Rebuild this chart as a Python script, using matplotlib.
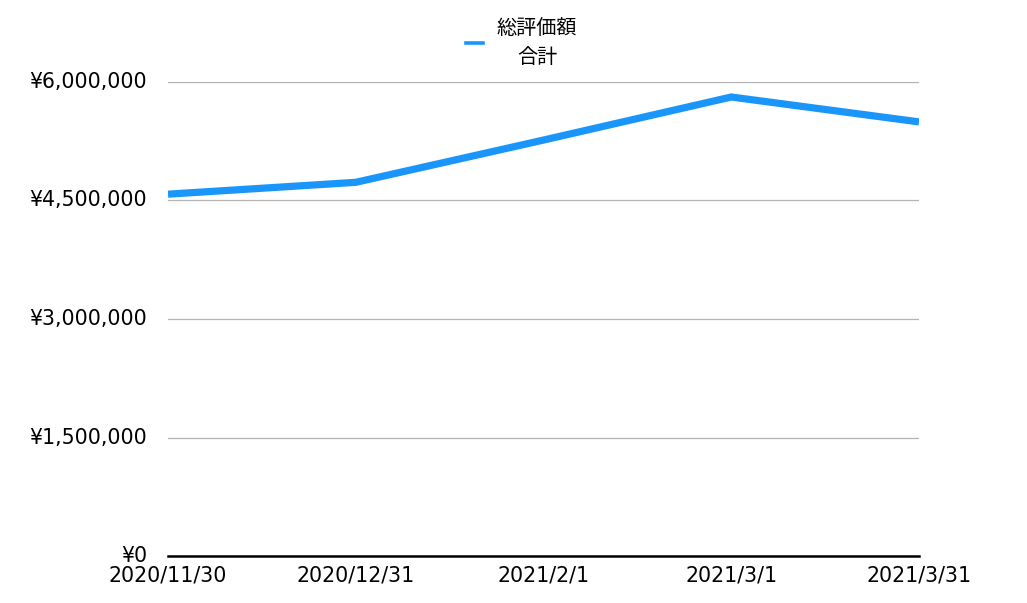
import matplotlib
matplotlib.use("Agg")
import matplotlib.pyplot as plt
from matplotlib.ticker import FuncFormatter
from matplotlib.lines import Line2D

plt.rcParams['font.family'] = ['DejaVu Sans', 'Noto Sans CJK JP']

dates = ["2020/11/30", "2020/12/31", "2021/2/1", "2021/3/1", "2021/3/31"]
total_value = [4580000, 4730000, 5265000, 5810000, 5495000]
series_label = "総評価額\n合計"
y_ticks = [0, 1500000, 3000000, 4500000, 6000000]

line_color = "#1a96fa"

fig = plt.figure(figsize=(10.27, 6.03), dpi=100)
ax = fig.add_axes([168/1027, 1-556/603, (919-168)/1027, (556-82)/603])

x = list(range(len(dates)))
ax.plot(x, total_value, color=line_color, lw=5.2, solid_capstyle="butt",
        solid_joinstyle="miter", label=series_label, zorder=3)

ax.set_xlim(0, len(dates)-1)
ax.set_ylim(0, 6000000)
ax.set_yticks(y_ticks)
ax.yaxis.set_major_formatter(FuncFormatter(lambda v, p: "¥{:,.0f}".format(v)))
ax.set_xticks(x)
ax.set_xticklabels(dates)
ax.grid(axis="y", color="#b3b3b3", lw=0.9)
ax.set_axisbelow(True)
for s in ["top", "right", "left"]:
    ax.spines[s].set_visible(False)
ax.spines["bottom"].set_linewidth(1.8)
ax.spines["bottom"].set_color("black")
ax.tick_params(axis="both", length=0, labelsize=14.8, colors="black")
ax.tick_params(axis="y", pad=15)
ax.tick_params(axis="x", pad=6.5)
for lab in ax.get_yticklabels():
    lab.set_verticalalignment("center")

# legend drawn manually to match the reference placement
ly = 1 - 43/603
fig.add_artist(Line2D([466/1027, 483/1027], [ly, ly], color=line_color, lw=2.6,
                      transform=fig.transFigure))
fig.text(537/1027, ly, series_label, ha="center", va="center", ma="center",
         fontsize=14.5, linespacing=1.45, family=['Noto Sans CJK JP', 'DejaVu Sans'])

fig.savefig("out.png", dpi=100)
